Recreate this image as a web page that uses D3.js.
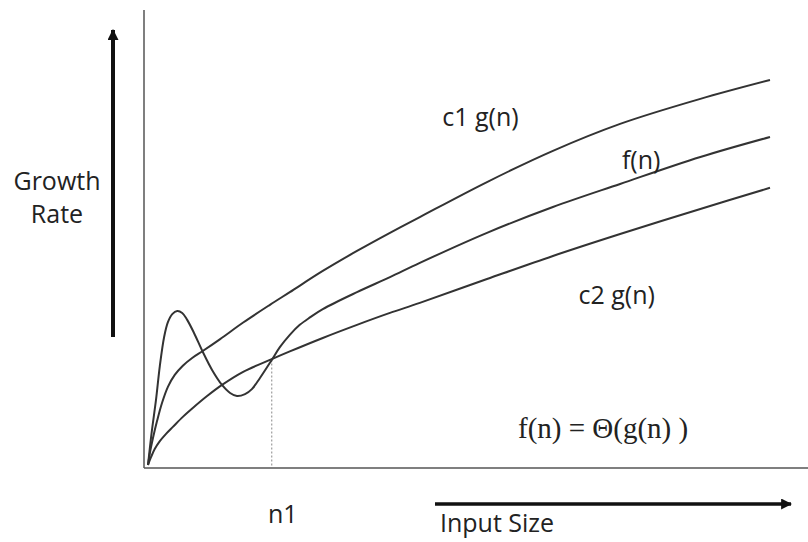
<!DOCTYPE html>
<html>
<head>
<meta charset="utf-8">
<script src="https://cdn.jsdelivr.net/npm/d3@7"></script>
<style>
  body { margin: 0; background: #fff; }
  svg { display: block; }
</style>
</head>
<body>
<script>
let width = 808,
    height = 542

// curve values (input size 0..100, growth rate 0..100)
const c1X = [0, 0.3, 0.8, 1.45, 2.25, 3.2, 4.3, 5.6, 7.1, 8.8, 11.6, 15.3, 19.6, 22.8, 28.1, 33.6, 38.9, 43.7, 54.5, 65.1, 75.9, 88.8, 100]
const c1Y = [0, 3.1, 7.0, 11.4, 16.1, 20.3, 23.4, 25.8, 27.8, 29.6, 32.7, 37.0, 41.6, 44.9, 50.4, 55.6, 60.3, 64.4, 73.5, 81.6, 88.6, 95.1, 100]

const fX = [0, 0.6, 1.3, 1.9, 2.6, 3.2, 3.9, 4.7, 5.5, 6.3, 7.4, 8.8, 10.3, 11.9, 13.2, 14.3, 15.6, 16.7, 18.0, 19.9, 21.2, 22.8, 24.4, 26.1, 28.1, 33.6, 38.9, 43.7, 54.5, 65.1, 75.9, 88.8, 100]
const fY = [0, 8.6, 17.1, 25.7, 33.3, 37.1, 39.2, 40.0, 39.5, 37.7, 34.3, 29.4, 24.7, 20.8, 18.7, 17.9, 18.4, 19.7, 22.6, 27.3, 30.6, 33.8, 36.4, 38.4, 40.5, 44.9, 48.8, 52.5, 60.3, 67.0, 73.0, 80.0, 85.2]

const c2X = [0, 0.5, 1.1, 1.9, 2.9, 4.0, 5.6, 7.2, 9.5, 11.9, 15.3, 19.9, 22.8, 28.1, 33.6, 38.9, 43.7, 54.5, 65.1, 75.9, 88.8, 100]
const c2Y = [0, 2.1, 4.2, 6.2, 8.1, 9.9, 12.5, 14.8, 17.9, 20.8, 24.2, 27.5, 29.5, 33.0, 36.4, 39.5, 42.1, 48.3, 54.3, 60.0, 66.5, 72.0]

// n1: where f(n) meets c2 g(n)
const n1 = 19.9
const n1Y = 27.4

const labels = [
  {text: 'c1 g(n)', x: 47.3, y: 88.0},
  {text: 'f(n)', x: 76.2, y: 77.0},
  {text: 'c2 g(n)', x: 69.2, y: 41.8}
]

let svg = d3.select('body').append('svg')
    .attr('width', width)
    .attr('height', height)

const x = d3.scaleLinear().domain([0, 100]).range([148, 770])
const y = d3.scaleLinear().domain([0, 100]).range([465, 80])

const sans = '"Open Sans", sans-serif'

let defs = svg.append('defs')
defs.append('marker')
    .attr('id', 'head')
    .attr('viewBox', '0 0 10 10')
    .attr('refX', 9)
    .attr('refY', 5)
    .attr('markerWidth', 11)
    .attr('markerHeight', 11)
    .attr('markerUnits', 'userSpaceOnUse')
    .attr('orient', 'auto')
  .append('path')
    .attr('d', 'M 0 0 L 10 5 L 0 10 Z')
    .style('fill', '#111')

// axes (plain lines, no ticks)
svg.append('line')
    .attr('x1', 144).attr('x2', 144)
    .attr('y1', 10).attr('y2', 468)
    .style('stroke', '#555')
    .style('stroke-width', 1.5)

svg.append('line')
    .attr('x1', 144).attr('x2', width)
    .attr('y1', 468).attr('y2', 468)
    .style('stroke', '#555')
    .style('stroke-width', 1.5)

// n1 dotted drop line
svg.append('line')
    .attr('x1', x(n1)).attr('x2', x(n1))
    .attr('y1', y(n1Y)).attr('y2', 467)
    .style('stroke', '#888')
    .style('stroke-width', 1)
    .style('stroke-dasharray', '2,2')

let line = d3.line()
    .x(d => x(d[0]))
    .y(d => y(d[1]))
    .curve(d3.curveCatmullRom.alpha(0.5))

let series = [d3.zip(c1X, c1Y), d3.zip(fX, fY), d3.zip(c2X, c2Y)]

svg.append('g').selectAll('path')
    .data(series)
    .join('path')
    .attr('d', line)
    .style('fill', 'none')
    .style('stroke', '#333')
    .style('stroke-width', 2)

// direction arrows
svg.append('line')
    .attr('x1', 113).attr('x2', 113)
    .attr('y1', 337).attr('y2', 30)
    .style('stroke', '#111')
    .style('stroke-width', 4)
    .attr('marker-end', 'url(#head)')

svg.append('line')
    .attr('x1', 435).attr('x2', 791)
    .attr('y1', 504).attr('y2', 504)
    .style('stroke', '#111')
    .style('stroke-width', 3.5)
    .attr('marker-end', 'url(#head)')

// text
svg.append('g').selectAll('text')
    .data(labels)
    .join('text')
    .attr('x', d => x(d.x))
    .attr('y', d => y(d.y))
    .style('font-family', sans)
    .style('font-size', '25px')
    .style('fill', '#222')
    .text(d => d.text)

let yTitle = svg.append('text')
    .attr('text-anchor', 'middle')
    .style('font-family', sans)
    .style('font-size', '25px')
    .style('fill', '#222')
yTitle.append('tspan').attr('x', 57).attr('y', 190).text('Growth')
yTitle.append('tspan').attr('x', 57).attr('y', 223).text('Rate')

svg.append('text')
    .attr('x', 268).attr('y', 523)
    .style('font-family', sans)
    .style('font-size', '25px')
    .style('fill', '#222')
    .text('n1')

svg.append('text')
    .attr('x', 440).attr('y', 532)
    .style('font-family', sans)
    .style('font-size', '25px')
    .style('fill', '#222')
    .text('Input Size')

svg.append('text')
    .attr('x', 518).attr('y', 438)
    .style('font-family', '"Liberation Serif", serif')
    .style('font-size', '29px')
    .style('fill', '#222')
    .text('f(n) = Θ(g(n) )')
</script>
</body>
</html>
